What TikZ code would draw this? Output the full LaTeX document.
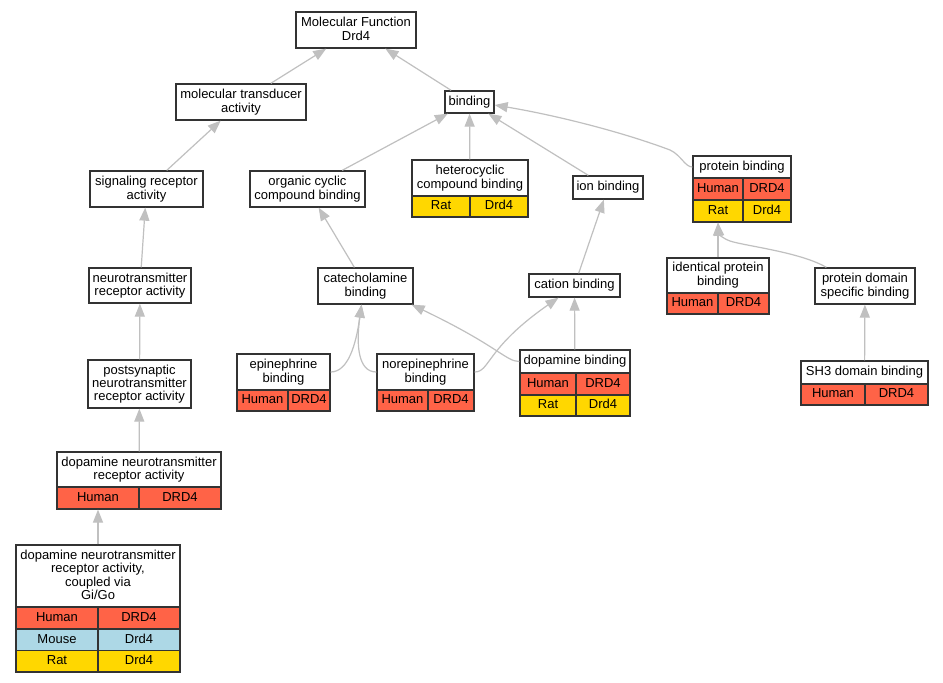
\documentclass[tikz,border=0pt]{standalone}
\usepackage{fontspec}
\setmainfont{Liberation Sans}
\usepackage{tikz}
\usetikzlibrary{calc}
\usetikzlibrary{arrows.meta}
\definecolor{ttomato}{HTML}{FF6347}
\definecolor{ggold}{HTML}{FFD700}
\definecolor{bblue}{HTML}{ADD8E6}
\definecolor{ggray}{HTML}{C0C0C0}
\definecolor{ddark}{HTML}{333333}
\newcommand\tstrut{\rule[-2.6pt]{0pt}{12pt}}
\begin{document}
\begin{tikzpicture}[x=1pt,y=-1pt,
	every node/.style={inner sep=0pt,align=center,font=\fontsize{13}{13.3}\selectfont,
		execute at begin node=\tstrut,execute at end node=\tstrut},
	term/.style={draw=ddark,line width=1.3pt,fill=white},
	human/.style={term,fill=ttomato},
	mouse/.style={term,fill=bblue},
	rat/.style={term,fill=ggold},
	isa/.style={draw=ggray,line width=1.2pt,-{Triangle[length=13pt,width=10pt]}}]
				\fill[white] (0,0) rectangle (943,683);
				\useasboundingbox (0,0) rectangle (943,683);
				\node[term,minimum width=120pt,minimum height=36pt] (mf) at (356,30) {Molecular Function\\Drd4};
				\node[term,minimum width=130pt,minimum height=36pt] (mta) at (241,102) {molecular transducer\\activity};
				\node[term,minimum width=49pt,minimum height=22pt] (bind) at (469.5,102) {binding};
				\node[term,minimum width=113pt,minimum height=36pt] (sig) at (146.5,189) {signaling receptor\\activity};
				\node[term,minimum width=115pt,minimum height=36pt] (ocb) at (307.5,189) {organic cyclic\\compound binding};
				\node[term,minimum width=116pt,minimum height=57pt] (het) at (470,188.5) {};
				\node (hett) at (470,178) {heterocyclic\\compound binding};
				\node[rat,minimum width=58pt,minimum height=21pt] (hetr1) at (441,206.5) {Rat};
				\node[rat,minimum width=58pt,minimum height=21pt] (hetr2) at (499,206.5) {Drd4};
				\node[term,minimum width=70pt,minimum height=23pt] (ion) at (608,187.5) {ion binding};
				\node[term,minimum width=98pt,minimum height=66pt] (pb) at (742,189) {};
				\node (pbt) at (742,167) {protein binding};
				\node[human,minimum width=50pt,minimum height=22pt] (pbh1) at (718,189) {Human};
				\node[human,minimum width=48pt,minimum height=22pt] (pbh2) at (767,189) {DRD4};
				\node[rat,minimum width=50pt,minimum height=22pt] (pbr1) at (718,211) {Rat};
				\node[rat,minimum width=48pt,minimum height=22pt] (pbr2) at (767,211) {Drd4};
				\node[term,minimum width=102pt,minimum height=35pt] (ntr) at (140,285.5) {neurotransmitter\\receptor activity};
				\node[term,minimum width=95pt,minimum height=36pt] (cat) at (365.5,286) {catecholamine\\binding};
				\node[term,minimum width=91pt,minimum height=23pt] (cati) at (574.5,285.5) {cation binding};
				\node[term,minimum width=102pt,minimum height=56pt] (ipb) at (718,286) {};
				\node (ipbt) at (718,275) {identical protein\\binding};
				\node[human,minimum width=51pt,minimum height=21pt] (ipbh1) at (692.5,303.5) {Human};
				\node[human,minimum width=51pt,minimum height=21pt] (ipbh2) at (743.5,303.5) {DRD4};
				\node[term,minimum width=100pt,minimum height=36pt] (pds) at (865,286) {protein domain\\specific binding};
				\node[term,minimum width=103pt,minimum height=48pt] (post) at (139.5,384) {postsynaptic\\neurotransmitter\\receptor activity};
				\node[term,minimum width=93pt,minimum height=57pt] (epi) at (283.5,382.5) {};
				\node (epit) at (283.5,372) {epinephrine\\binding};
				\node[human,minimum width=51pt,minimum height=21pt] (epih1) at (262.5,400.5) {Human};
				\node[human,minimum width=42pt,minimum height=21pt] (epih2) at (309,400.5) {DRD4};
				\node[term,minimum width=97pt,minimum height=57pt] (nor) at (425.5,382.5) {};
				\node (nort) at (425.5,372) {norepinephrine\\binding};
				\node[human,minimum width=51pt,minimum height=21pt] (norh1) at (402.5,400.5) {Human};
				\node[human,minimum width=46pt,minimum height=21pt] (norh2) at (451,400.5) {DRD4};
				\node[term,minimum width=110pt,minimum height=66pt] (dop) at (575,383) {};
				\node (dopt) at (575,361.5) {dopamine binding};
				\node[human,minimum width=56pt,minimum height=22pt] (doph1) at (548,384) {Human};
				\node[human,minimum width=54pt,minimum height=22pt] (doph2) at (603,384) {DRD4};
				\node[rat,minimum width=56pt,minimum height=21pt] (dopr1) at (548,405.5) {Rat};
				\node[rat,minimum width=54pt,minimum height=21pt] (dopr2) at (603,405.5) {Drd4};
				\node[term,minimum width=127pt,minimum height=44pt] (sh3) at (864.5,383) {};
				\node (sh3t) at (864.5,372.5) {SH3 domain binding};
				\node[human,minimum width=64pt,minimum height=21pt] (sh3h1) at (833,394.5) {Human};
				\node[human,minimum width=63pt,minimum height=21pt] (sh3h2) at (896.5,394.5) {DRD4};
				\node[term,minimum width=164pt,minimum height=57pt] (dnra) at (139,480.5) {};
				\node (dnrat) at (139,469.5) {dopamine neurotransmitter\\receptor activity};
				\node[human,minimum width=82pt,minimum height=22pt] (dnrah1) at (98,498) {Human};
				\node[human,minimum width=82pt,minimum height=22pt] (dnrah2) at (180,498) {DRD4};
				\node[term,minimum width=164pt,minimum height=127pt] (gigo) at (98,608.5) {};
				\node (gigot) at (98,576) {dopamine neurotransmitter\\receptor activity,\\coupled via\\Gi/Go};
				\node[human,minimum width=82pt,minimum height=22pt] (gigoh1) at (57,618) {Human};
				\node[human,minimum width=82pt,minimum height=22pt] (gigoh2) at (139,618) {DRD4};
				\node[mouse,minimum width=82pt,minimum height=21.5pt] (gigom1) at (57,639.75) {Mouse};
				\node[mouse,minimum width=82pt,minimum height=21.5pt] (gigom2) at (139,639.75) {Drd4};
				\node[rat,minimum width=82pt,minimum height=21.5pt] (gigor1) at (57,661.25) {Rat};
				\node[rat,minimum width=82pt,minimum height=21.5pt] (gigor2) at (139,661.25) {Drd4};
				\draw[isa] (mta) -- (mf);
				\draw[isa] (bind) -- (mf);
				\draw[isa] (sig) -- (mta);
				\draw[isa] (ocb) -- (bind);
				\draw[isa] (het) -- (bind);
				\draw[isa] (ion) -- (bind);
				\draw[isa] (pbt -| pb.west) .. controls (685,167) and (681,155) .. (670,150) .. controls (625,133) and (560,116) .. ($(bind.east)+(0,3)$);
				\draw[isa] (ntr) -- (sig);
				\draw[isa] (cat) -- (ocb);
				\draw[isa] (cati) -- (ion);
				\draw[isa] (ipb.north) -- (ipb.north |- pb.south);
				\draw[isa] ($(pds.north west)+(12,0)$) .. controls (800,252) and (745,246) .. (730,241) .. controls (722,238) and (719,234) .. (ipb.north |- pb.south);
				\draw[isa] (post) -- (ntr);
				\draw[isa] (epit -| epi.east) .. controls (348,372) and (356,345) .. ($(cat.south)+(-4,0)$);
				\draw[isa] (nort -| nor.west) .. controls (358,372) and (356,345) .. ($(cat.south)+(-4,0)$);
				\draw[isa] (dopt -| dop.west) .. controls (506,361.5) and (498,346) .. ($(cat.south east)+(-2,0)$);
				\draw[isa] (nort -| nor.east) .. controls (490,372) and (486,348) .. ($(cati.south)+(-16,0)$);
				\draw[isa] (dop) -- (cati);
				\draw[isa] (sh3) -- (pds);
				\draw[isa] (dnra) -- (post);
				\draw[isa] (gigo.north) -- (gigo.north |- dnra.south);
			\end{tikzpicture}
\end{document}
